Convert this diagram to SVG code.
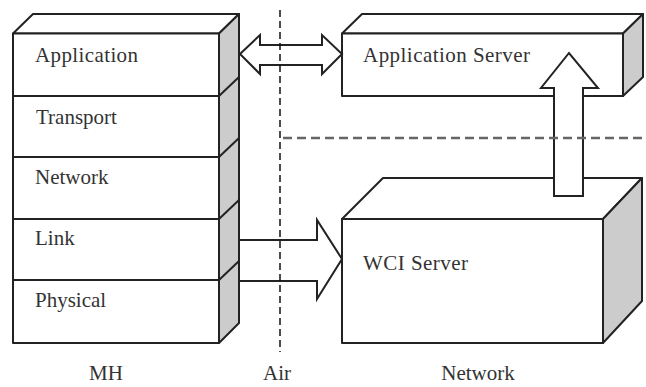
<svg xmlns="http://www.w3.org/2000/svg" width="646" height="387" viewBox="0 0 646 387">
  <style>
    .face { fill: #ffffff; stroke: #222; stroke-width: 2; stroke-linejoin: round; }
    .side { fill: #cccccc; stroke: #222; stroke-width: 2; stroke-linejoin: round; }
    .edge { fill: none; stroke: #222; stroke-width: 2; }
    .arrow { fill: #ffffff; stroke: #222; stroke-width: 2; stroke-linejoin: miter; }
    .lbl { font-family: 'Liberation Serif', 'Times New Roman', serif; font-size: 21px; fill: #333; }
    .air { stroke: #111; stroke-width: 1.5; stroke-dasharray: 7 4; fill: none; }
    .zone { stroke: #666; stroke-width: 2.5; stroke-dasharray: 9 5; fill: none; }
  </style>

  <!-- Mobile host protocol stack -->
  <g id="mh-stack">
    <polygon class="face" points="13,33.5 33,14 239,14 219,33.5"/>
    <polygon class="side" points="219,33.5 239,14 239,323 219,343"/>
    <rect class="face" x="13" y="33.5" width="206" height="309.5"/>
    <line class="edge" x1="13" y1="96" x2="219" y2="96"/>
    <line class="edge" x1="13" y1="157" x2="219" y2="157"/>
    <line class="edge" x1="13" y1="219" x2="219" y2="219"/>
    <line class="edge" x1="13" y1="280" x2="219" y2="280"/>
    <line class="edge" x1="219" y1="96" x2="239" y2="77"/>
    <line class="edge" x1="219" y1="157" x2="239" y2="138"/>
    <line class="edge" x1="219" y1="219" x2="239" y2="200"/>
    <line class="edge" x1="219" y1="280" x2="239" y2="261"/>
    <text class="lbl" x="35" y="62" textLength="103">Application</text>
    <text class="lbl" x="36" y="124">Transport</text>
    <text class="lbl" x="35" y="184">Network</text>
    <text class="lbl" x="35" y="245">Link</text>
    <text class="lbl" x="35" y="307">Physical</text>
  </g>

  <!-- WCI server box -->
  <g id="wci-server">
    <polygon class="face" points="342,219 383,178 642,178 603,219"/>
    <polygon class="side" points="603,219 642,178 642,301 603,343"/>
    <rect class="face" x="342" y="219" width="261" height="124"/>
    <text class="lbl" x="363" y="270" textLength="105">WCI Server</text>
  </g>

  <!-- Application server box -->
  <g id="app-server">
    <polygon class="face" points="342,33.5 362,14 643,14 623,33.5"/>
    <polygon class="side" points="623,33.5 643,14 643,77 623,96"/>
    <rect class="face" x="342" y="33.5" width="281" height="62.5"/>
    <text class="lbl" x="363" y="62" textLength="167">Application Server</text>
  </g>

  <!-- Connectors -->
  <g id="connectors">
    <polygon class="arrow" points="240,54 260,35 260,45 322,45 322,35 342,54 322,74 322,65 260,65 260,74"/>
    <polygon class="arrow" points="239,240 317,240 317,220 342,259 317,299 317,281 239,281"/>
    <polygon class="arrow" points="554,196 554,88 541,88 569,53 598,88 583,88 583,196"/>
  </g>

  <!-- Region boundaries -->
  <g id="boundaries">
    <line class="air" x1="280" y1="10" x2="280" y2="352"/>
    <line class="zone" x1="283" y1="138" x2="646" y2="138"/>
  </g>

  <!-- Region labels -->
  <g id="region-labels">
    <text class="lbl" x="106" y="380" text-anchor="middle">MH</text>
    <text class="lbl" x="277" y="380" text-anchor="middle">Air</text>
    <text class="lbl" x="478" y="380" text-anchor="middle">Network</text>
  </g>
</svg>
